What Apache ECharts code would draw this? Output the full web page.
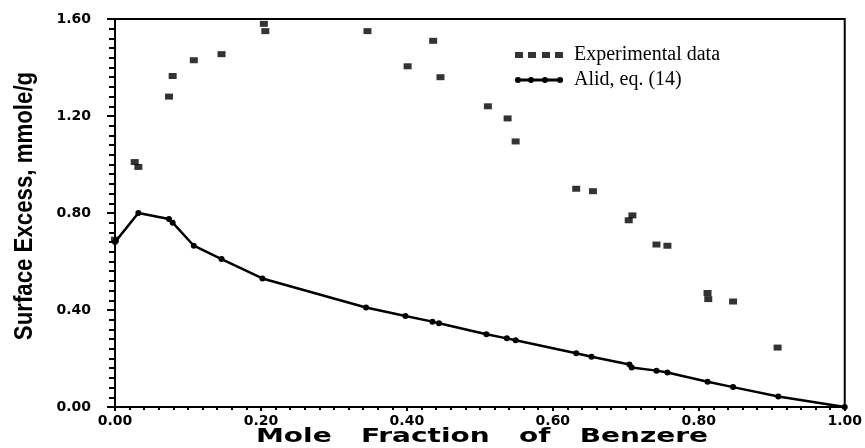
<!DOCTYPE html>
<html>
<head>
<meta charset="utf-8">
<script src="https://cdn.jsdelivr.net/npm/echarts@6/dist/echarts.min.js"></script>
<style>
    html, body { margin: 0; padding: 0; background: #fff; }
    #chart { width: 865px; height: 448px; }
    #err { position: absolute; left: 130px; top: 120px; width: 600px; font: 11px monospace; color: red; }
</style>
</head>
<body>
<div id="chart"></div>
<div id="err"></div>
<script>
window.onerror = (m) => { document.getElementById('err').textContent += 'ERR ' + m + ' | '; };

// data
let expX = [0.0, 0.027, 0.032, 0.074, 0.079, 0.108, 0.146, 0.204, 0.206, 0.346, 0.401, 0.436, 0.446,
            0.511, 0.538, 0.549, 0.632, 0.655, 0.704, 0.709, 0.742, 0.757, 0.812, 0.813, 0.847, 0.908];
let expY = [0.69, 1.01, 0.99, 1.28, 1.365, 1.43, 1.455, 1.58, 1.55, 1.55, 1.405, 1.51, 1.36,
            1.24, 1.19, 1.095, 0.90, 0.89, 0.77, 0.79, 0.67, 0.665, 0.47, 0.445, 0.435, 0.245];

let modelX = [0.0, 0.032, 0.074, 0.079, 0.108, 0.146, 0.202, 0.344, 0.398, 0.435, 0.444, 0.509,
              0.537, 0.549, 0.632, 0.653, 0.705, 0.708, 0.742, 0.757, 0.812, 0.847, 0.909, 1.0];
let modelY = [0.68, 0.80, 0.775, 0.76, 0.665, 0.61, 0.53, 0.41, 0.375, 0.352, 0.345, 0.30,
              0.283, 0.275, 0.222, 0.207, 0.175, 0.163, 0.15, 0.142, 0.104, 0.082, 0.043, 0.0];

let seriesNames = ['Experimental data', 'Alid, eq. (14)'];

let zip = (xs, ys) => xs.map((x, i) => [x, ys[i]]);

let myChart = echarts.init(document.getElementById('chart'));

let fmt = (v) => v.toFixed(2);

// legend icons: row of squares / line with dots
let squaresIcon = 'path://M0,0h8v6h-8zM13,0h8v6h-8zM27,0h8v6h-8zM40,0h8v6h-8z';
let dotLineIcon = 'path://M0,2h48v3h-48zM0,3.5a3,3 0 1,1 6,0a3,3 0 1,1 -6,0zM13,3.5a3,3 0 1,1 6,0a3,3 0 1,1 -6,0z' +
                  'M27,3.5a3,3 0 1,1 6,0a3,3 0 1,1 -6,0zM42,3.5a3,3 0 1,1 6,0a3,3 0 1,1 -6,0z';

let legendText = { color: '#000', fontFamily: 'Liberation Serif', fontSize: 20 };

let option = {
    backgroundColor: '#fff',
    animation: false,
    grid: {
        left: 115, right: 20, top: 19, bottom: 41,
        show: true,
        borderColor: '#000',
        borderWidth: 2
    },
    xAxis: {
        type: 'value',
        min: 0, max: 1, interval: 0.2,
        axisLine: { show: true, lineStyle: { color: '#000', width: 2 } },
        axisTick: { show: true, length: 4, lineStyle: { color: '#000', width: 2 } },
        minorTick: { show: true, splitNumber: 10, length: 3, lineStyle: { color: '#000', width: 2 } },
        splitLine: { show: false },
        axisLabel: { formatter: fmt, margin: 7, color: '#000', fontFamily: 'DejaVu Sans', fontWeight: 'bold', fontSize: 14 }
    },
    yAxis: {
        type: 'value',
        min: 0, max: 1.6, interval: 0.4,
        axisLine: { show: true, lineStyle: { color: '#000', width: 2 } },
        axisTick: { show: true, length: 8, lineStyle: { color: '#000', width: 2 } },
        minorTick: { show: true, splitNumber: 10, length: 6, lineStyle: { color: '#000', width: 2 } },
        splitLine: { show: false },
        axisLabel: { formatter: fmt, margin: 24, color: '#000', fontFamily: 'DejaVu Sans', fontWeight: 'bold', fontSize: 14 }
    },
    legend: [
        {
            left: 510, top: 40,
            itemWidth: 48, itemHeight: 6,
            textStyle: Object.assign({ padding: [0, 0, 18, 6] }, legendText),
            data: [{ name: seriesNames[0], icon: squaresIcon }]
        },
        {
            left: 510, top: 65,
            itemWidth: 48, itemHeight: 7,
            textStyle: Object.assign({ padding: [18, 0, 0, 6] }, legendText),
            data: [{ name: seriesNames[1], icon: dotLineIcon }]
        }
    ],
    graphic: [
        {
            type: 'text',
            x: 25, y: 206,
            rotation: Math.PI / 2,
            scaleX: 0.89,
            style: {
                text: 'Surface Excess, mmole/g',
                fill: '#000',
                font: 'bold 25px "Liberation Sans"',
                align: 'center',
                verticalAlign: 'middle'
            }
        },
        {
            type: 'text',
            x: 482, y: 437,
            scaleX: 1.4,
            style: {
                text: 'Mole   Fraction   of   Benzere',
                fill: '#000',
                font: 'bold 20px "DejaVu Sans"',
                align: 'center',
                verticalAlign: 'middle'
            }
        }
    ],
    series: [
        {
            name: seriesNames[0],
            type: 'scatter',
            symbol: 'rect',
            symbolSize: [8, 6],
            itemStyle: { color: '#000' },
            data: zip(expX, expY)
        },
        {
            name: seriesNames[1],
            type: 'line',
            symbol: 'circle',
            symbolSize: 6,
            lineStyle: { color: '#000', width: 2.5 },
            itemStyle: { color: '#000' },
            data: zip(modelX, modelY)
        }
    ]
};

try {
    myChart.setOption(option);
} catch (e) {
    document.getElementById('err').textContent += 'CATCH ' + e.message + ' ' + (e.stack || '').slice(0, 300);
}
</script>
</body>
</html>
